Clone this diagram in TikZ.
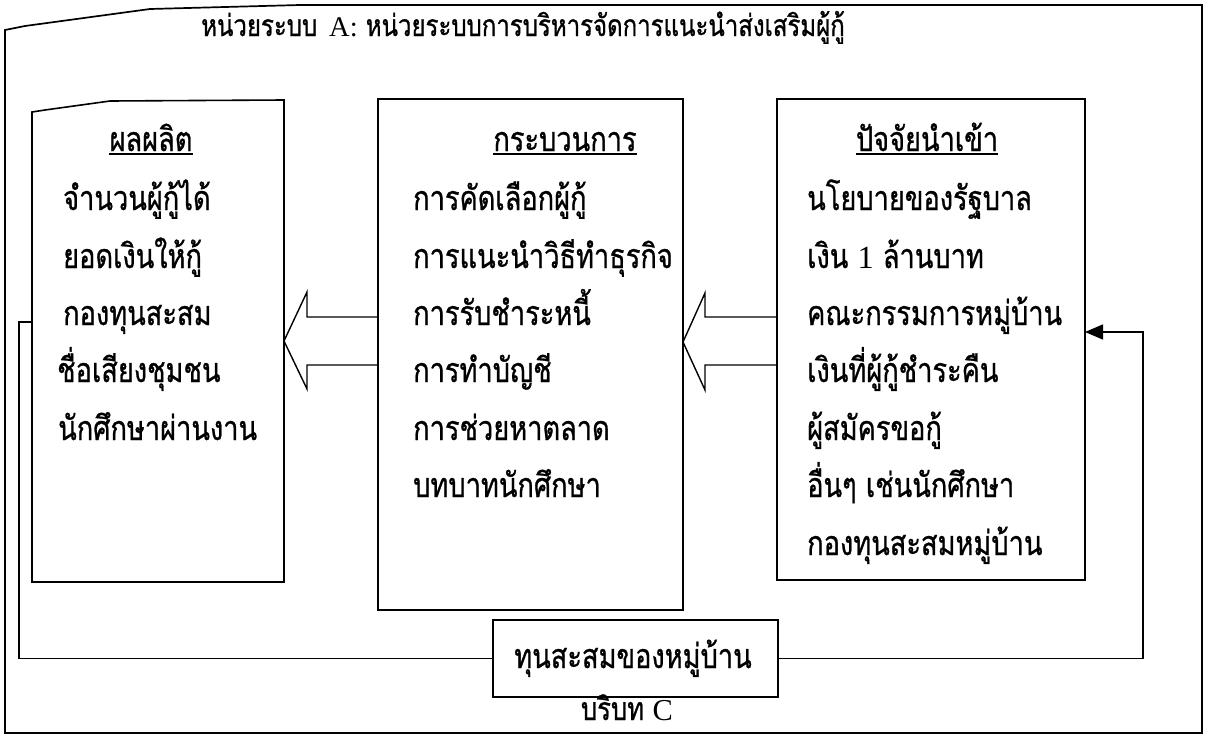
\documentclass[tikz,border=0pt]{standalone}
\usepackage{fontspec}
\usetikzlibrary{arrows.meta,calc}
\newfontfamily\thai[Script=Thai,FakeStretch=0.8,FakeBold=0.8]{Loma}
\newfontfamily\lat[Scale=0.95]{Liberation Serif}
\begin{document}
\begin{tikzpicture}[x=1pt,y=-1pt,
  frame/.style={line width=1.7pt},
  boxnode/.style={inner sep=0pt, outer sep=0pt},
  boxline/.style={draw, line width=1.6pt},
  txt/.style={anchor=base west, inner sep=0pt, font=\thai\fontsize{34}{40}\selectfont},
  hd/.style={anchor=base, inner sep=0pt, font=\thai\fontsize{34}{40}\selectfont},
  ttl/.style={anchor=base, inner sep=0pt, font=\thai\fontsize{30}{34}\selectfont},
  uline/.style={line width=1.4pt},
  blk/.style={draw, line width=1.4pt, line join=miter},
  conn/.style={draw, line width=1.6pt}]
\useasboundingbox (0,0) rectangle (1209,736);
% outer frame
\draw[frame] (5,733) -- (5,30) -- (25,26) -- (150,9) -- (300,5) -- (1202,5) -- (1202,733) -- cycle;
% title
\node[ttl] (title) at (523,36) {หน่วยระบบ\hspace{12pt}{\lat A:} หน่วยระบบการบริหารจัดการแนะนำส่งเสริมผู้กู้};
% boxes
\node[boxnode, minimum width=252pt, minimum height=482pt] (outp) at (158,341) {};
\draw[line width=1.6pt] (outp.south west) -- ([yshift=-12pt]outp.north west) -- ([xshift=13pt,yshift=-10pt]outp.north west) -- ([xshift=78pt,yshift=-1pt]outp.north west) -- (outp.north east) -- (outp.south east) -- cycle;
\node[boxnode, boxline, minimum width=305pt, minimum height=511pt] (proc) at (530.5,354.5) {};
\node[boxnode, boxline, minimum width=308pt, minimum height=481pt] (inp) at (931,339.5) {};
\node[boxnode, boxline, minimum width=285pt, minimum height=77pt] (cap) at (635.5,658.5) {};
% headings
\node[hd] (oh) at (151,151) {ผลผลิต};
\node[hd] (ph) at (565,151) {กระบวนการ};
\node[hd] (ih) at (927,151) {ปัจจัยนำเข้า};
\foreach \n in {oh,ph,ih}{
  \draw[uline] ($(\n.base west)+(0,3)$) -- ($(\n.base east)+(0,3)$);
}
% outputs
\node[txt] (o1) at (63,210) {จำนวนผู้กู้ได้};
\node[txt] (o2) at (63,268) {ยอดเงินให้กู้};
\node[txt] (o3) at (63,325) {กองทุนสะสม};
\node[txt] (o4) at (57,382) {ชื่อเสียงชุมชน};
\node[txt] (o5) at (58,440) {นักศึกษาผ่านงาน};
% process
\node[txt] (p1) at (413,210) {การคัดเลือกผู้กู้};
\node[txt] (p2) at (413,268) {การแนะนำวิธีทำธุรกิจ};
\node[txt] (p3) at (413,325) {การรับชำระหนี้};
\node[txt] (p4) at (413,382) {การทำบัญชี};
\node[txt] (p5) at (413,440) {การช่วยหาตลาด};
\node[txt] (p6) at (413,497) {บทบาทนักศึกษา};
% inputs
\node[txt] (i1) at (807,210) {นโยบายของรัฐบาล};
\node[txt] (i2) at (807,268) {เงิน {\lat 1} ล้านบาท};
\node[txt] (i3) at (807,325) {คณะกรรมการหมู่บ้าน};
\node[txt] (i4) at (807,382) {เงินที่ผู้กู้ชำระคืน};
\node[txt] (i5) at (807,440) {ผู้สมัครขอกู้};
\node[txt] (i6) at (807,497) {อื่นๆ เช่นนักศึกษา};
\node[txt] (i7) at (807,555) {กองทุนสะสมหมู่บ้าน};
% bottom texts
\node[hd] (capt) at (633,668) {ทุนสะสมของหมู่บ้าน};
\node[hd, font=\thai\fontsize{32}{36}\selectfont] (ctx) at (627,720) {บริบท {\lat C}};
% block arrows
\draw[blk] (proc.west |- 0,317) -| (307,292) -- (outp.east |- 0,341) -- (307,389) |- (proc.west |- 0,365);
\draw[blk] (inp.west |- 0,317) -| (705,293) -- (proc.east |- 0,342) -- (705,390) |- (inp.west |- 0,365);
% feedback loop
\coordinate (lb) at (19,322);
\coordinate (rb) at (1143,332);
\draw[conn] (outp.west |- lb) -- (lb) |- (cap.west);
\draw[conn,-{Triangle[length=18pt,width=15pt]}] (cap.east) -| (rb) -- (inp.east |- rb);
\end{tikzpicture}
\end{document}
